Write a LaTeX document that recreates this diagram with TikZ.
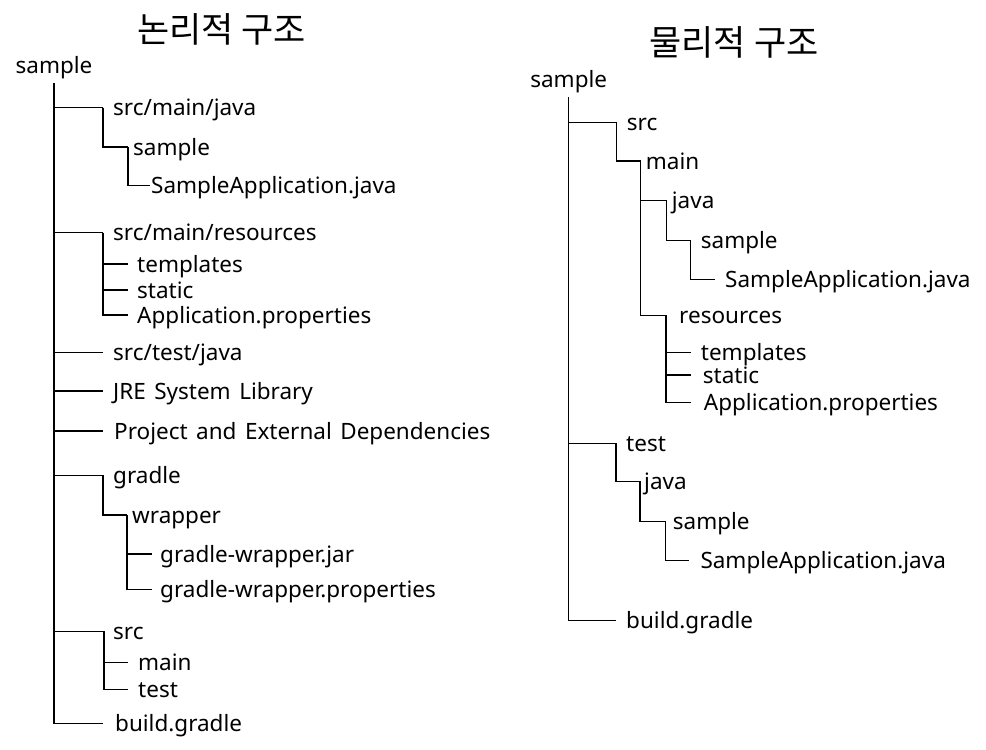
\documentclass[tikz,border=0pt]{standalone}
\usepackage{fontspec}
\setmainfont{Noto Sans}[WordSpace=1.45]
\newfontfamily\krfont{Noto Sans CJK KR}
\usetikzlibrary{positioning,calc}

\begin{document}
\begin{tikzpicture}[
    x=1pt, y=-1pt,
    title/.style={font=\krfont\fontsize{35}{40}\selectfont, inner sep=0pt},
    root/.style={anchor=base, inner sep=0pt, text depth=10pt, font=\fontsize{22.5}{26}\selectfont},
    item/.style={anchor=west, inner xsep=#1, inner ysep=0pt, text height=20pt, text depth=4pt, font=\fontsize{22.5}{26}\selectfont},
    item/.default=10pt,
    link/.style={line width=1.2pt, black},
]
\useasboundingbox (0,0) rectangle (986,750);

% Titles
\node[title] (tl) at (221.5,29) {논리적 구조};
\node[title] (tr) at (734,42) {물리적 구조};

% Logical tree
\node[root] (rootL) at (54,73) {sample};
\node[item] (jvL) at (103,107.7) {src/main/java};
\node[item=5pt] (pkgL) at (128,147) {sample};
\node[item=1pt] (appL) at (150,185.7) {SampleApplication.java};
\node[item] (resL) at (103,232.7) {src/main/resources};
\node[item=9pt] (tmplL) at (128,264) {templates};
\node[item=9pt] (statL) at (128,290) {static};
\node[item=9pt] (propL) at (128,315) {Application.properties};
\node[item] (tstL) at (103,352.3) {src/test/java};
\node[item] (jreL) at (103,391) {JRE System Library};
\node[item=11pt] (depL) at (103,431) {Project and External Dependencies};
\node[item] (grdL) at (103,475.3) {gradle};
\node[item=5pt] (wrpL) at (127,515) {wrapper};
\node[item=8pt] (jarL) at (152,554) {gradle-wrapper.jar};
\node[item=8pt] (gpropL) at (152,589.3) {gradle-wrapper.properties};
\node[item=9pt] (srcL) at (104,631.3) {src};
\node[item] (mainL) at (128,662.3) {main};
\node[item] (testL) at (128,689.3) {test};
\node[item=12pt] (bldL) at (103,723.3) {build.gradle};

\draw[link] (rootL.south) |- (bldL.west);
\foreach \n in {jvL,resL,tstL,jreL,depL,grdL,srcL}
    \draw[link] (rootL.south |- \n.west) -- (\n.west);
\draw[link] (jvL.west) |- (pkgL.west);
\draw[link] (pkgL.west) |- (appL.west);
\draw[link] (resL.west) |- (propL.west);
\draw[link] (resL.west |- tmplL.west) -- (tmplL.west);
\draw[link] (resL.west |- statL.west) -- (statL.west);
\draw[link] (grdL.west) |- (wrpL.west);
\draw[link] (wrpL.west) |- (gpropL.west);
\draw[link] (wrpL.west |- jarL.west) -- (jarL.west);
\draw[link] (srcL.west) |- (testL.west);
\draw[link] (srcL.west |- mainL.west) -- (mainL.west);

% Physical tree
\node[root] (rootR) at (568.7,87) {sample};
\node[item] (srcR) at (616.7,122.3) {src};
\node[item=5pt] (mainR) at (640.7,161) {main};
\node[item=5pt] (javaR) at (666.7,200.7) {java};
\node[item] (pkgR) at (690.7,240.3) {sample};
\node[item] (appR) at (715,279.7) {SampleApplication.java};
\node[item=13pt] (resR) at (666,315.3) {resources};
\node[item] (tmplR) at (690.7,352.3) {templates};
\node[item=12pt] (statR) at (690.7,375) {static};
\node[item=13pt] (propR) at (690.7,402.7) {Application.properties};
\node[item] (testR) at (616,443.3) {test};
\node[item=4pt] (tjavaR) at (640,481.3) {java};
\node[item=7pt] (tpkgR) at (665.7,521.3) {sample};
\node[item=11pt] (tappR) at (689.3,560.3) {SampleApplication.java};
\node[item] (bldR) at (616,620.3) {build.gradle};

\draw[link] (rootR.south) |- (bldR.west);
\foreach \n in {srcR,testR}
    \draw[link] (rootR.south |- \n.west) -- (\n.west);
\draw[link] (srcR.west) |- (mainR.west);
\draw[link] (mainR.west) |- (resR.west);
\draw[link] (mainR.west |- javaR.west) -- (javaR.west);
\draw[link] (javaR.west) |- (pkgR.west);
\draw[link] (pkgR.west) |- (appR.west);
\draw[link] (resR.west) |- (propR.west);
\draw[link] (resR.west |- tmplR.west) -- (tmplR.west);
\draw[link] (resR.west |- statR.west) -- (statR.west);
\draw[link] (testR.west) |- (tjavaR.west);
\draw[link] (tjavaR.west) |- (tpkgR.west);
\draw[link] (tpkgR.west) |- (tappR.west);
\end{tikzpicture}
\end{document}
